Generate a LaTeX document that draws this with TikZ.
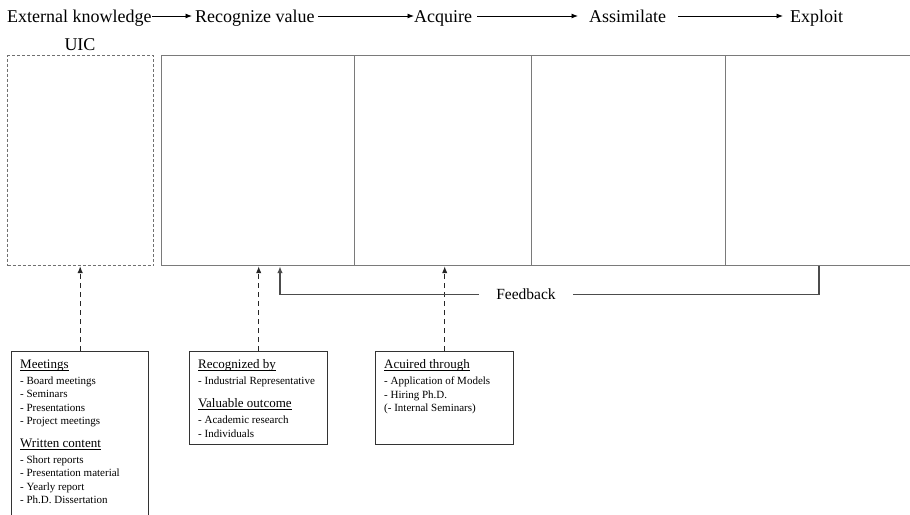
\documentclass[tikz,border=0pt]{standalone}
\usepackage{fontspec}
\setmainfont{Liberation Serif}
\usetikzlibrary{arrows.meta,calc}

% heading underline placed just below the baseline
\newcommand\headul[1]{\setbox0\hbox{#1}\rlap{\rule[-2pt]{\wd0}{0.6pt}}\box0}
\newcommand\hfont{\fontsize{13}{13.5}\selectfont}

\definecolor{cellgray}{HTML}{7A7A7A}
\definecolor{boxgray}{HTML}{333333}
\definecolor{dashgray}{HTML}{707070}

\begin{document}
\begin{tikzpicture}[x=1pt,y=-1pt,
  stagetext/.style={anchor=base west,inner sep=0pt,font=\fontsize{18}{20}\selectfont},
  flowarr/.style={draw=black,line width=0.9pt,-{Latex[length=6.5pt,width=5pt]}},
  cell/.style={draw=cellgray,line width=1.2pt,anchor=north west,inner sep=0pt,minimum height=210pt},
  uicbox/.style={draw=dashgray,line width=1.1pt,dash pattern=on 3pt off 2pt,anchor=north west,inner sep=0pt},
  infobox/.style={draw=boxgray,line width=1.4pt,anchor=north west,inner sep=0pt},
  infotext/.style={anchor=north west,inner sep=0pt,align=left,font=\fontsize{11}{13.5}\selectfont},
  dasharr/.style={draw=black!85,line width=1.2pt,dash pattern=on 5pt off 4pt,-{Latex[length=7pt,width=5.5pt]}},
  fbline/.style={draw=black!70,line width=1.4pt,-{Latex[length=7pt,width=5.5pt]}}
]
\useasboundingbox (0,0) rectangle (910,514);

% stage row
\node[stagetext] (ext) at (7,23) {External knowledge};
\node[stagetext] (rec) at (195,23) {Recognize value};
\node[stagetext] (acq) at (414,23) {Acquire};
\node[stagetext] (ass) at (589,23) {Assimilate};
\node[stagetext] (exp) at (790,23) {Exploit};

\draw[flowarr] ([yshift=7pt]ext.base east) -- ([yshift=7pt,xshift=-3pt]rec.base west);
\draw[flowarr] ([yshift=7pt,xshift=3pt]rec.base east) -- ([yshift=7pt]acq.base west);
\draw[flowarr] ([yshift=7pt,xshift=5pt]acq.base east) -- ([yshift=7pt,xshift=-11pt]ass.base west);
\draw[flowarr] ([yshift=7pt,xshift=12pt]ass.base east) -- ([yshift=7pt,xshift=-7pt]exp.base west);

% UIC column
\node[anchor=base,inner sep=0pt,font=\fontsize{18}{20}\selectfont] (uiclbl) at (80,50) {UIC};
\node[uicbox,minimum width=146pt,minimum height=210pt] (uic) at (7,55) {};

% stage cells
\node[cell,minimum width=193pt] (cellR) at (161,55) {};
\node[cell,minimum width=177pt] (cellA) at (354,55) {};
\node[cell,minimum width=194pt] (cellS) at (531,55) {};
\node[cell,minimum width=200pt] (cellE) at (725,55) {};

% information boxes
\node[infobox,minimum width=137pt,minimum height=180pt] (meetbox) at (11,351) {};
\node[infobox,minimum width=138pt,minimum height=93pt] (recbox) at (189,351) {};
\node[infobox,minimum width=138pt,minimum height=93pt] (acqbox) at (375,351) {};

\node[infotext] (meettxt) at (20,359.3) {%
  \headul{\hfont Meetings}\\[2.5pt]
  - Board meetings\\
  - Seminars\\
  - Presentations\\
  - Project meetings\\[9pt]
  \headul{\hfont Written content}\\[2.5pt]
  - Short reports\\
  - Presentation material\\
  - Yearly report\\
  - Ph.D. Dissertation};

\node[infotext] (rectxt) at (198,359.3) {%
  \headul{\hfont Recognized by}\\[2.5pt]
  - Industrial Representative\\[9.8pt]
  \headul{\hfont Valuable outcome}\\[2.5pt]
  - Academic research\\
  - Individuals};

\node[infotext] (acqtxt) at (384,359.3) {%
  \headul{\hfont Acuired through}\\[2.5pt]
  - Application of Models\\
  - Hiring Ph.D.\\
  (- Internal Seminars)};

% links from the boxes up to the stages
\draw[dasharr] (meetbox.north) -- (meetbox.north |- uic.south);
\draw[dasharr] (recbox.north) -- (recbox.north |- cellR.south);
\draw[dasharr] (acqbox.north) -- (acqbox.north |- cellA.south);

% feedback loop
\draw[fbline] ($(cellE.south west)+(94,0)$) -- ++(0,28) -| ($(cellR.south west)+(119,0)$);
\node[fill=white,inner xsep=17pt,inner ysep=1pt,font=\fontsize{15.5}{17}\selectfont] (fb) at (526,293.7) {Feedback};

\end{tikzpicture}
\end{document}
